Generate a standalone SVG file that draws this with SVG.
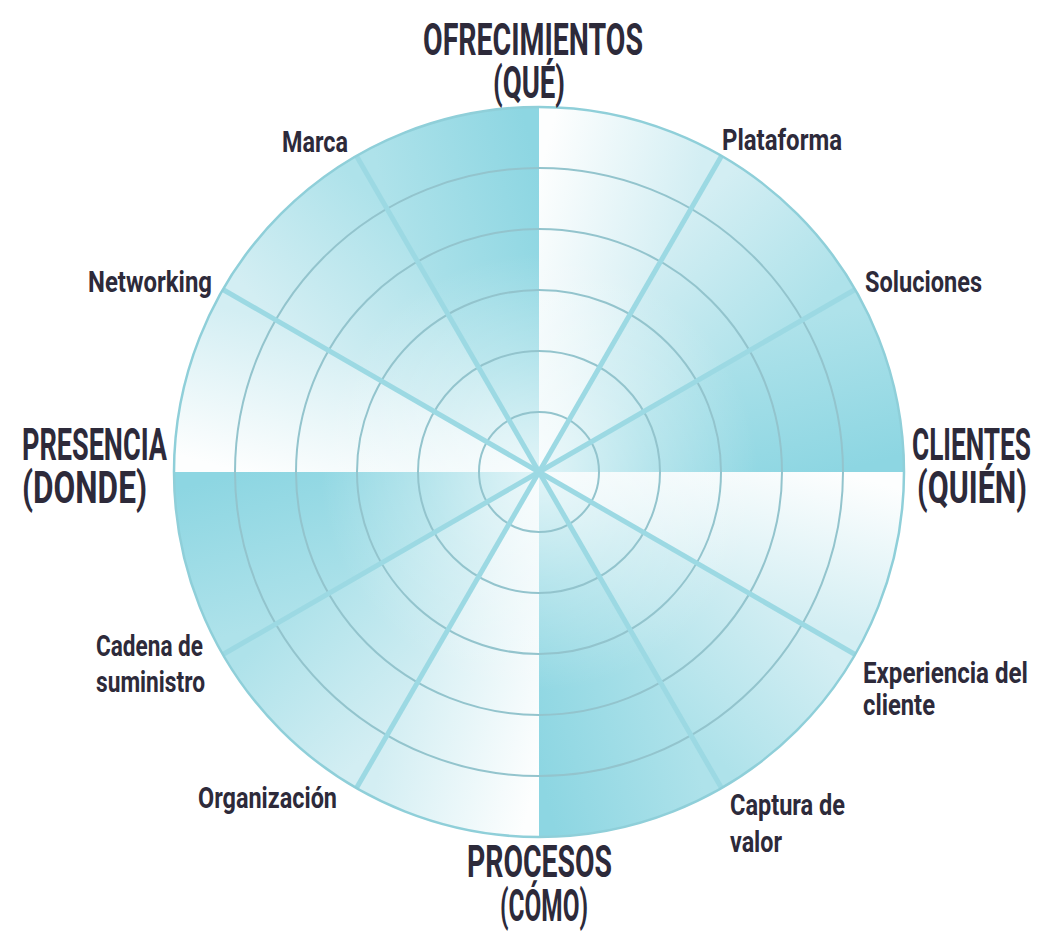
<svg xmlns="http://www.w3.org/2000/svg" xmlns:xlink="http://www.w3.org/1999/xlink" width="1038" height="932" viewBox="0 0 1038 932">
  <style>
    .big { font-family: "Roboto", "Liberation Sans", sans-serif; font-weight: 700; font-size: 44px; fill: #2d2a3a; }
    .small { font-family: "Roboto", "Liberation Sans", sans-serif; font-weight: 700; font-size: 29px; fill: #2d2a3a; }
    .ring { fill: none; stroke: #93c4cd; stroke-width: 2; }
    .spoke { stroke: #9cd9e3; stroke-width: 5; stroke-linecap: butt; }
  </style>
  <defs>
    <linearGradient id="b0"><stop offset="0" stop-color="#fdfefe"/><stop offset="1" stop-color="#d3eef3"/></linearGradient>
    <linearGradient id="b1"><stop offset="0" stop-color="#d3eef3"/><stop offset="1" stop-color="#aee2ea"/></linearGradient>
    <linearGradient id="b2"><stop offset="0" stop-color="#aee2ea"/><stop offset="1" stop-color="#8dd6e2"/></linearGradient>
    <linearGradient id="g1" xlink:href="#b0" gradientUnits="userSpaceOnUse" x1="539" y1="172" x2="689" y2="212.2"/>
    <linearGradient id="g2" xlink:href="#b1" gradientUnits="userSpaceOnUse" x1="689" y1="212.2" x2="798.8" y2="322"/>
    <linearGradient id="g3" xlink:href="#b2" gradientUnits="userSpaceOnUse" x1="798.8" y1="322" x2="839" y2="472"/>
    <linearGradient id="g4" xlink:href="#b0" gradientUnits="userSpaceOnUse" x1="839" y1="472" x2="798.8" y2="622"/>
    <linearGradient id="g5" xlink:href="#b1" gradientUnits="userSpaceOnUse" x1="798.8" y1="622" x2="689" y2="731.8"/>
    <linearGradient id="g6" xlink:href="#b2" gradientUnits="userSpaceOnUse" x1="689" y1="731.8" x2="539" y2="772"/>
    <linearGradient id="g7" xlink:href="#b0" gradientUnits="userSpaceOnUse" x1="539" y1="772" x2="389" y2="731.8"/>
    <linearGradient id="g8" xlink:href="#b1" gradientUnits="userSpaceOnUse" x1="389" y1="731.8" x2="279.2" y2="622"/>
    <linearGradient id="g9" xlink:href="#b2" gradientUnits="userSpaceOnUse" x1="279.2" y1="622" x2="239" y2="472"/>
    <linearGradient id="g10" xlink:href="#b0" gradientUnits="userSpaceOnUse" x1="239" y1="472" x2="279.2" y2="322"/>
    <linearGradient id="g11" xlink:href="#b1" gradientUnits="userSpaceOnUse" x1="279.2" y1="322" x2="389" y2="212.2"/>
    <linearGradient id="g12" xlink:href="#b2" gradientUnits="userSpaceOnUse" x1="389" y1="212.2" x2="539" y2="172"/>
    <radialGradient id="ctr" gradientUnits="userSpaceOnUse" cx="539" cy="472" r="365">
      <stop offset="0" stop-color="#ffffff" stop-opacity="0.7"/>
      <stop offset="0.3" stop-color="#ffffff" stop-opacity="0.3"/>
      <stop offset="0.6" stop-color="#ffffff" stop-opacity="0"/>
    </radialGradient>
  </defs>
  <rect width="1038" height="932" fill="#ffffff"/>

  <g id="wheel">
    <path d="M539,472 L539,107 A365,365 0 0 1 721.5,155.9 Z" fill="url(#g1)"/>
    <path d="M539,472 L721.5,155.9 A365,365 0 0 1 855.1,289.5 Z" fill="url(#g2)"/>
    <path d="M539,472 L855.1,289.5 A365,365 0 0 1 904,472 Z" fill="url(#g3)"/>
    <path d="M539,472 L904,472 A365,365 0 0 1 855.1,654.5 Z" fill="url(#g4)"/>
    <path d="M539,472 L855.1,654.5 A365,365 0 0 1 721.5,788.1 Z" fill="url(#g5)"/>
    <path d="M539,472 L721.5,788.1 A365,365 0 0 1 539,837 Z" fill="url(#g6)"/>
    <path d="M539,472 L539,837 A365,365 0 0 1 356.5,788.1 Z" fill="url(#g7)"/>
    <path d="M539,472 L356.5,788.1 A365,365 0 0 1 222.9,654.5 Z" fill="url(#g8)"/>
    <path d="M539,472 L222.9,654.5 A365,365 0 0 1 174,472 Z" fill="url(#g9)"/>
    <path d="M539,472 L174,472 A365,365 0 0 1 222.9,289.5 Z" fill="url(#g10)"/>
    <path d="M539,472 L222.9,289.5 A365,365 0 0 1 356.5,155.9 Z" fill="url(#g11)"/>
    <path d="M539,472 L356.5,155.9 A365,365 0 0 1 539,107 Z" fill="url(#g12)"/>
    <circle cx="539" cy="472" r="365" fill="url(#ctr)"/>
    <g id="rings">
      <circle class="ring" cx="539" cy="472" r="60"/>
      <circle class="ring" cx="539" cy="472" r="121"/>
      <circle class="ring" cx="539" cy="472" r="182"/>
      <circle class="ring" cx="539" cy="472" r="243"/>
      <circle class="ring" cx="539" cy="472" r="304"/>
    </g>
    <g id="connectors">
      <line class="spoke" x1="539" y1="472" x2="721.5" y2="155.9"/>
      <line class="spoke" x1="539" y1="472" x2="855.1" y2="289.5"/>
      <line class="spoke" x1="539" y1="472" x2="855.1" y2="654.5"/>
      <line class="spoke" x1="539" y1="472" x2="721.5" y2="788.1"/>
      <line class="spoke" x1="539" y1="472" x2="356.5" y2="788.1"/>
      <line class="spoke" x1="539" y1="472" x2="222.9" y2="654.5"/>
      <line class="spoke" x1="539" y1="472" x2="222.9" y2="289.5"/>
      <line class="spoke" x1="539" y1="472" x2="356.5" y2="155.9"/>
    </g>
    <circle cx="539" cy="472" r="365" fill="none" stroke="#8fcfd9" stroke-width="2.5"/>
  </g>

  <g id="ofrecimientos">
    <text class="big" x="423" y="55" textLength="220" lengthAdjust="spacingAndGlyphs">OFRECIMIENTOS</text>
    <text class="big" x="493" y="98" textLength="72" lengthAdjust="spacingAndGlyphs">(QUÉ)</text>
  </g>
  <g id="presencia">
    <text class="big" x="22" y="460" textLength="145" lengthAdjust="spacingAndGlyphs">PRESENCIA</text>
    <text class="big" x="22" y="503" textLength="125" lengthAdjust="spacingAndGlyphs">(DONDE)</text>
  </g>
  <g id="clientes">
    <text class="big" x="912" y="460" textLength="119" lengthAdjust="spacingAndGlyphs">CLIENTES</text>
    <text class="big" x="917" y="503" textLength="110" lengthAdjust="spacingAndGlyphs">(QUIÉN)</text>
  </g>
  <g id="procesos">
    <text class="big" x="467" y="877" textLength="145" lengthAdjust="spacingAndGlyphs">PROCESOS</text>
    <text class="big" x="500" y="921" textLength="88" lengthAdjust="spacingAndGlyphs">(CÓMO)</text>
  </g>

  <g id="marca"><text class="small" x="282" y="152" textLength="66" lengthAdjust="spacingAndGlyphs">Marca</text></g>
  <g id="plataforma"><text class="small" x="722" y="150" textLength="120" lengthAdjust="spacingAndGlyphs">Plataforma</text></g>
  <g id="soluciones"><text class="small" x="865" y="292" textLength="117" lengthAdjust="spacingAndGlyphs">Soluciones</text></g>
  <g id="networking"><text class="small" x="88" y="292" textLength="124" lengthAdjust="spacingAndGlyphs">Networking</text></g>
  <g id="cadena">
    <text class="small" x="96" y="656" textLength="107" lengthAdjust="spacingAndGlyphs">Cadena de</text>
    <text class="small" x="96" y="692" textLength="109" lengthAdjust="spacingAndGlyphs">suministro</text>
  </g>
  <g id="experiencia">
    <text class="small" x="863" y="683" textLength="165" lengthAdjust="spacingAndGlyphs">Experiencia del</text>
    <text class="small" x="863" y="715" textLength="72" lengthAdjust="spacingAndGlyphs">cliente</text>
  </g>
  <g id="organizacion"><text class="small" x="198" y="808" textLength="139" lengthAdjust="spacingAndGlyphs">Organización</text></g>
  <g id="captura">
    <text class="small" x="730" y="815" textLength="115" lengthAdjust="spacingAndGlyphs">Captura de</text>
    <text class="small" x="730" y="852" textLength="52" lengthAdjust="spacingAndGlyphs">valor</text>
  </g>
</svg>
